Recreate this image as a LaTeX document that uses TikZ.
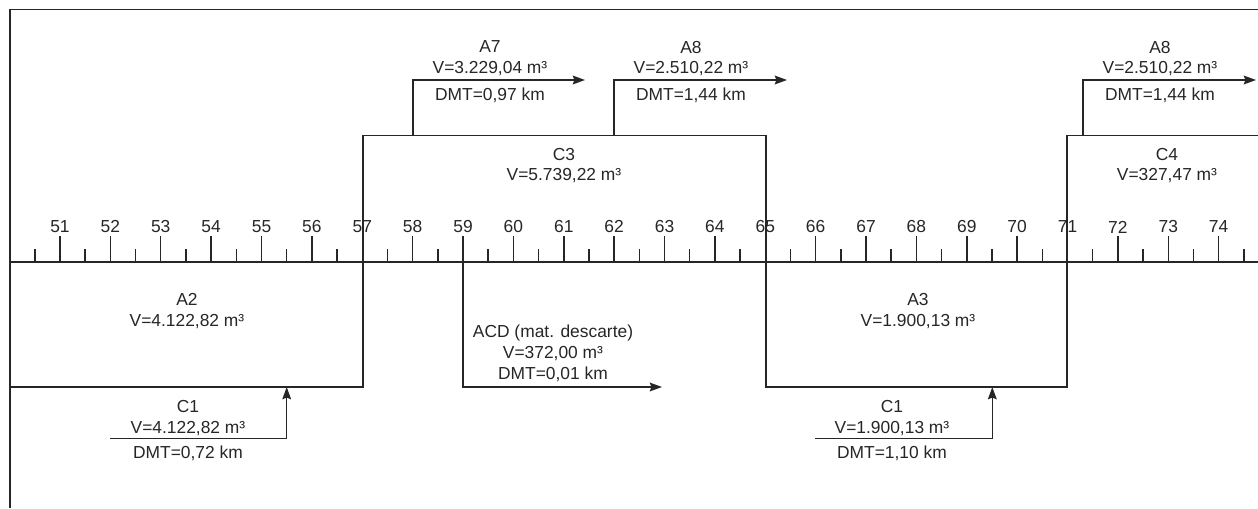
\documentclass[tikz,border=0pt]{standalone}
\usepackage{fontspec}
\setmainfont{Liberation Sans}
\usetikzlibrary{arrows.meta,positioning}
\definecolor{ink}{HTML}{262626}

\tikzset{
  haul/.style={ink,line width=0.85pt},
  flow/.style={ink,line width=0.85pt,-{Stealth[length=7pt,width=5pt,inset=1pt]}},
  lbl/.style={ink,font=\fontsize{9.9}{11.9}\selectfont,align=center,inner sep=0pt},
}

\begin{document}
\begin{tikzpicture}[x=0.02cm,y=-0.02cm]
  \useasboundingbox (0,0) rectangle (1258,508);

  % frame
  \draw[haul] (10,508) -- (10,9.5) -- (1258,9.5);

  % stations axis
  \draw[haul] (10,262) -- (1258,262);
  \foreach \s in {51,...,74} {
    \draw[haul] ({60+(\s-51)*50.375},236) -- ++(0,26);
    \node[lbl] (st\s) at ({60+(\s-51)*50.375},227) {\s};
  }
  \foreach \s in {50,...,74}
    \draw[haul] ({60+(\s-50.5)*50.375},249) -- ++(0,13);

  % mass line
  \draw[haul] (10,387) -- (363,387) -- (363,135.5) -- (766,135.5)
    -- (766,387) -- (1067,387) -- (1067,135.5) -- (1258,135.5);

  % cuts and fills
  \node[lbl] (c3) at (564,165.5) {C3\\V=5.739,22 m³};
  \node[lbl] (c4) at (1167,165.5) {C4\\V=327,47 m³};
  \node[lbl] (a2) at (187,310.7) {A2\\V=4.122,82 m³};
  \node[lbl] (a3) at (918,310.7) {A3\\V=1.900,13 m³};

  % haul to A7
  \coordinate (a7from) at (413,135.5);
  \coordinate (a7to) at (585,80);
  \draw[flow] (a7from) |- (a7to);
  \node[lbl] (a7) at (490,58.5) {A7\\V=3.229,04 m³};
  \node[lbl] (a7dmt) at (490,95) {DMT=0,97 km};

  % haul to A8
  \coordinate (a8from) at (614,135.5);
  \coordinate (a8to) at (787,80);
  \draw[flow] (a8from) |- (a8to);
  \node[lbl] (a8) at (691,58.5) {A8\\V=2.510,22 m³};
  \node[lbl] (a8dmt) at (691,95) {DMT=1,44 km};

  % haul to A8 from C4
  \coordinate (a8bfrom) at (1083,135.5);
  \coordinate (a8bto) at (1256,80);
  \draw[flow] (a8bfrom) |- (a8bto);
  \node[lbl] (a8b) at (1160,58.5) {A8\\V=2.510,22 m³};
  \node[lbl] (a8bdmt) at (1160,95) {DMT=1,44 km};

  % waste
  \coordinate (acdfrom) at (463,262);
  \coordinate (acdto) at (662,387);
  \draw[flow] (acdfrom) |- (acdto);
  \node[lbl] (acd) at (553,353.5) {ACD (mat. descarte)\\V=372,00 m³\\DMT=0,01 km};

  % C1 into A2
  \coordinate (c1from) at (110,438.7);
  \coordinate (c1to) at (286.7,387);
  \draw[flow] (c1from) -| (c1to);
  \node[lbl] (c1) at (188,418) {C1\\V=4.122,82 m³};
  \node[lbl] (c1dmt) at (188,453) {DMT=0,72 km};

  % C1 into A3
  \coordinate (c1bfrom) at (815,438.7);
  \coordinate (c1bto) at (992.3,387);
  \draw[flow] (c1bfrom) -| (c1bto);
  \node[lbl] (c1b) at (892,418) {C1\\V=1.900,13 m³};
  \node[lbl] (c1bdmt) at (892,453) {DMT=1,10 km};
\end{tikzpicture}
\end{document}
